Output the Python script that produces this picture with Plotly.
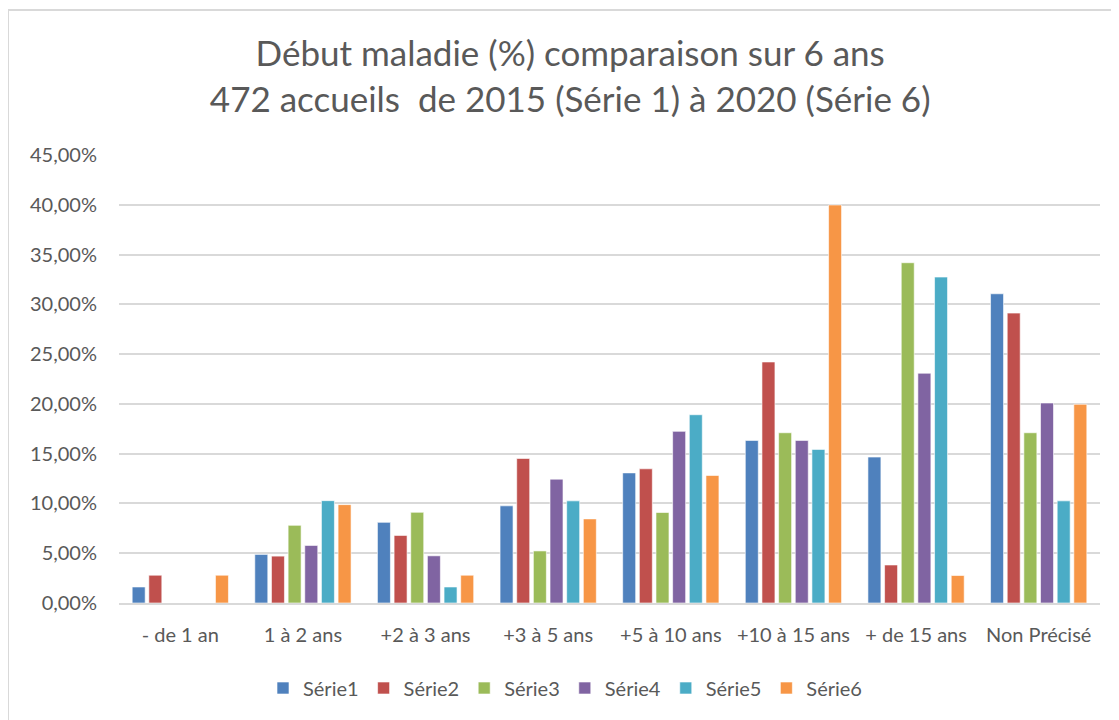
import plotly.graph_objects as go

categories = ["- de 1 an", "1 à 2 ans", "+2 à 3 ans", "+3 à 5 ans",
              "+5 à 10 ans", "+10 à 15 ans", "+ de 15 ans", "Non Précisé"]

serie1 = [1.61, 4.88, 8.10, 9.76, 13.07, 16.33, 14.66, 31.06]
serie2 = [2.79, 4.71, 6.79, 14.52, 13.48, 24.21, 3.82, 29.12]
serie3 = [0.00, 7.80, 9.11, 5.23, 9.09, 17.10, 34.18, 17.10]
serie4 = [0.00, 5.78, 4.74, 12.44, 17.24, 16.33, 23.08, 20.09]
serie5 = [0.00, 10.28, 1.61, 10.26, 18.91, 15.43, 32.74, 10.26]
serie6 = [2.79, 9.88, 2.79, 8.45, 12.81, 39.98, 2.76, 19.96]

series_names = ["Série1", "Série2", "Série3", "Série4", "Série5", "Série6"]
series_values = [serie1, serie2, serie3, serie4, serie5, serie6]
colors = ["#4F81BD", "#C0504D", "#9BBB59", "#8064A2", "#4BACC6", "#F79646"]

FONT = "Lato"
GRAY = "#595959"

fig = go.Figure()
for name, vals, col in zip(series_names, series_values, colors):
    fig.add_trace(go.Bar(
        x=categories, y=vals, name=name,
        marker=dict(color=col, line=dict(color="rgba(255,255,255,0.6)", width=1)),
    ))

# page body has an 8px margin: figure occupies 8..1119 x 8..720
W, H = 1111, 712
L, R, T, B = 111, 19, 147, 117
pw = W - L - R
ph = H - T - B

def px_x(x):
    return (x - L) / pw

def px_y(y):
    return (H - B - y) / ph

fig.update_layout(
    width=W, height=H,
    margin=dict(l=L, r=R, t=T, b=B, pad=0),
    paper_bgcolor="white", plot_bgcolor="white",
    barmode="group", bargap=0.185, bargroupgap=0.22,
    separators=", ",
    font=dict(family=FONT, color=GRAY, size=20),
    title=dict(
        text="Début maladie (%) comparaison sur 6 ans<br>472 accueils  de 2015 (Série 1) à 2020 (Série 6)",
        x=0.506, xanchor="center", y=1 - 58 / H, yanchor="middle",
        font=dict(family=FONT, size=35, color=GRAY),
    ),
    xaxis=dict(
        showgrid=False, showline=True, linecolor="#d9d9d9", linewidth=2,
        ticks="", ticklabelstandoff=13,
        tickfont=dict(family=FONT, size=20, color=GRAY),
    ),
    yaxis=dict(
        range=[0, 45], dtick=5, tickformat=".2f", ticksuffix="%",
        showgrid=True, gridcolor="#d9d9d9", gridwidth=2,
        zeroline=False, showline=False, ticks="", ticklabelstandoff=21,
        tickfont=dict(family=FONT, size=20, color=GRAY),
    ),
    legend=dict(
        orientation="h", x=px_x(557), xanchor="center",
        y=px_y(680), yanchor="middle",
        font=dict(family=FONT, size=20, color=GRAY),
        itemwidth=30, traceorder="normal",
    ),
    shapes=[dict(
        type="rect", xref="paper", yref="paper",
        x0=px_x(0), x1=px_x(1130), y0=px_y(730), y1=px_y(2),
        line=dict(color="#d9d9d9", width=2), fillcolor="rgba(0,0,0,0)",
        layer="below",
    )],
)

fig.write_html("out.html")
